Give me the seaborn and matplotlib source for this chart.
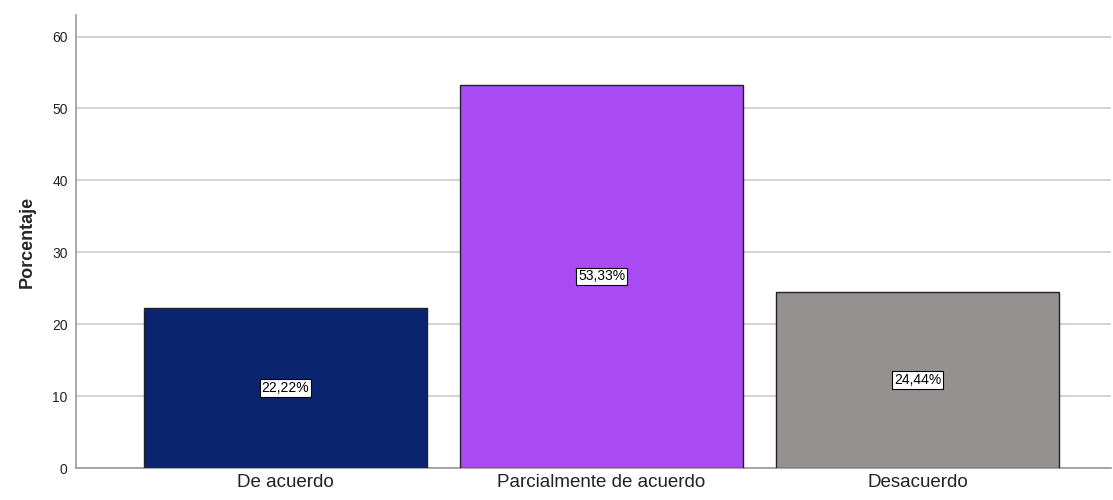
import matplotlib
matplotlib.use("Agg")
import matplotlib.pyplot as plt
import seaborn as sns
import pandas as pd

categories = ["De acuerdo", "Parcialmente de acuerdo", "Desacuerdo"]
values = [22.22, 53.33, 24.44]
labels = ["22,22%", "53,33%", "24,44%"]
colors = ["#0B2470", "#A94BF2", "#959190"]

sns.set_style("white")
plt.rcParams['font.family'] = ['Liberation Sans', 'DejaVu Sans']

df = pd.DataFrame({"cat": categories, "val": values})
fig = plt.figure(figsize=(11.13, 5.0), dpi=100)
ax = fig.add_axes([76/1113, 32/500, 1 - 76/1113 - 2/1113, (468-15)/500])
sns.barplot(data=df, x="cat", y="val", hue="cat", palette=colors, width=0.897, saturation=1,
            edgecolor="#222222", linewidth=1.0, legend=False, ax=ax, zorder=3)
ax.set_ylim(0, 63)
ax.set_xlim(-0.663, 2.612)
ax.set_yticks([0, 10, 20, 30, 40, 50, 60])
ax.yaxis.grid(True, color="#cfcfcf", linewidth=1.3, zorder=0)
ax.set_axisbelow(True)
for s in ["top", "right"]:
    ax.spines[s].set_visible(False)
for s in ["left", "bottom"]:
    ax.spines[s].set_color("#9a9a9a")
    ax.spines[s].set_linewidth(1.2)
ax.tick_params(axis="y", labelsize=10, length=0, pad=6, colors="#222222")
ax.tick_params(axis="x", labelsize=13.5, length=0, pad=4, colors="#222222")
ax.set_xlabel("")
ax.set_ylabel("Porcentaje", fontsize=13, fontweight="bold", labelpad=12)
for i, (v, t) in enumerate(zip(values, labels)):
    ax.text(i, v / 2, t, ha="center", va="center", fontsize=10, color="black", zorder=5,
            bbox=dict(boxstyle="square,pad=0.12", facecolor="white", edgecolor="black", linewidth=0.8))
fig.savefig("out.png", dpi=100)
